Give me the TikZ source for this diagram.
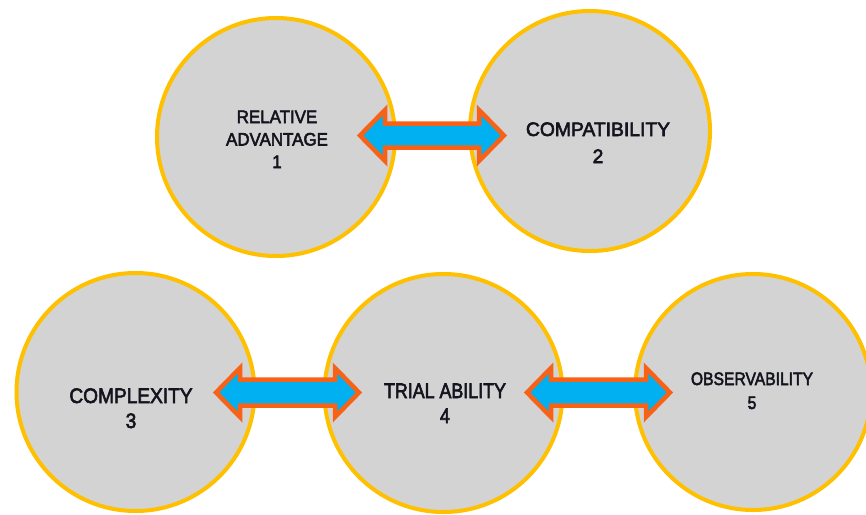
\documentclass[tikz,border=0pt]{standalone}
\usepackage{fontspec}
\usepackage{graphicx}
\setmainfont{Liberation Sans}[FakeBold=3]
\usetikzlibrary{calc}
\definecolor{circfill}{RGB}{211,211,211}
\definecolor{circline}{RGB}{255,192,0}
\definecolor{arrfill}{RGB}{0,176,240}
\definecolor{arrline}{RGB}{248,98,22}
\definecolor{txt}{RGB}{20,20,30}
\newcommand\lbltext[4]{\fontsize{#1}{#2}\selectfont\scalebox{#3}[1]{\begin{tabular}[t]{@{}c@{}}#4\end{tabular}}}
\newcommand\blockarrow[5]{%
  \draw[barrow] (#1) -- ++(#3,-#4) -- ++(0,#4-#5) -- ($(#2)+(-#3,-#5)$) -- ++(0,#5-#4)
    -- (#2) -- ++(-#3,#4) -- ++(0,#5-#4) -- ($(#1)+(#3,#5)$) -- ++(0,#4-#5) -- cycle;}
\begin{document}
\begin{tikzpicture}[x=1pt,y=-1pt,
  circ/.style={circle, fill=circfill, draw=circline, line width=4pt, inner sep=0pt},
  barrow/.style={fill=arrfill, draw=arrline, line width=4.5pt, line join=miter},
  lbl/.style={anchor=base, text=txt, inner sep=0pt}]
\fill[white] (0,0) rectangle (866,514);
\useasboundingbox (0,0) rectangle (866,514);
% circles
\node[circ, minimum size=238pt] (c1) at (276,137) {};
\node[circ, minimum size=240pt] (c2) at (590,131) {};
\node[circ, minimum size=238pt] (c3) at (135.5,392) {};
\node[circ, minimum size=238pt] (c4) at (443.5,393) {};
\node[circ, minimum size=236pt] (c5) at (753,392) {};
% arrow ends
\coordinate (a1L) at (360,135.5);
\coordinate (a1R) at (504,135.5);
\coordinate (a2L) at (216,392.5);
\coordinate (a2R) at (359,392.5);
\coordinate (a3L) at (527,392.5);
\coordinate (a3R) at (670,392.5);
\blockarrow{a1L}{a1R}{25}{25.5}{12}
\blockarrow{a2L}{a2R}{24}{24.5}{13}
\blockarrow{a3L}{a3R}{24}{24.5}{13}
% labels
\node[lbl] (t1) at (277,123) {\lbltext{18}{22.5}{0.94}{RELATIVE\\ADVANTAGE\\1}};
\node[lbl] (t2) at (598,136) {\lbltext{19.5}{27}{0.99}{COMPATIBILITY\\2}};
\node[lbl] (t3) at (131,403) {\lbltext{21}{25}{0.91}{COMPLEXITY\\3}};
\node[lbl] (t4) at (445,398) {\lbltext{21}{25}{0.85}{TRIAL ABILITY\\4}};
\node[lbl] (t5) at (752,385) {\lbltext{18}{24}{0.87}{OBSERVABILITY\\5}};
\end{tikzpicture}
\end{document}
